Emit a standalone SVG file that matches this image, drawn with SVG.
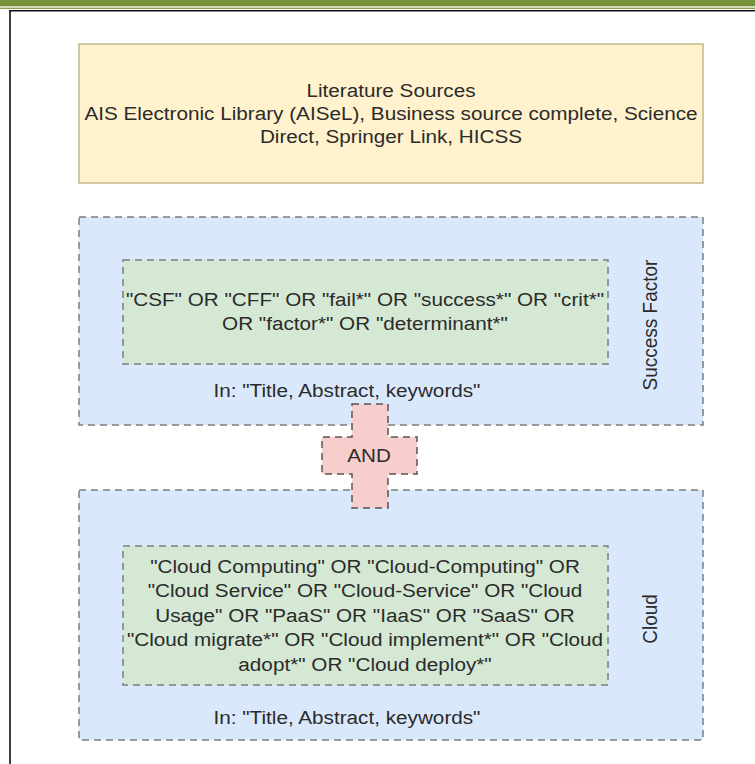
<svg xmlns="http://www.w3.org/2000/svg" width="755" height="764" viewBox="0 0 755 764">
  <style>
    .t { font-family: "Liberation Sans", Arial, sans-serif; font-size: 19px; fill: #2b2b2b; text-anchor: middle; }
    .src { fill: #fff2cc; stroke: #c4b88c; stroke-width: 1.5; }
    .grp { fill: #dae8fc; stroke: #7d7d7d; stroke-width: 1.5; stroke-dasharray: 7 5; }
    .terms { fill: #d5e8d4; stroke: #7d7d7d; stroke-width: 1.5; stroke-dasharray: 7 5; }
    .op { fill: #f8cecc; stroke: #555555; stroke-width: 1.5; stroke-dasharray: 7 5; }
  </style>

  <!-- page background and header rule -->
  <rect x="0" y="0" width="755" height="764" fill="#ffffff"/>
  <rect x="0" y="0" width="755" height="6.5" fill="#76923c"/>
  <rect x="0" y="6.5" width="755" height="1.2" fill="#e4ecd4"/>
  <rect x="0" y="7.7" width="755" height="1.3" fill="#8aa352"/>
  <line x1="9.3" y1="10.7" x2="755" y2="10.7" stroke="#111111" stroke-width="1.6"/>
  <line x1="10" y1="10" x2="10" y2="764" stroke="#111111" stroke-width="1.6"/>

  <g id="connectors"></g>

  <!-- literature sources -->
  <g id="sources">
    <rect class="src" x="79" y="44" width="624" height="139"/>
    <g transform="translate(391,0) scale(1.09,1)">
      <text class="t" x="0" y="97">Literature Sources</text>
      <text class="t" x="0" y="120">AIS Electronic Library (AISeL), Business source complete, Science</text>
      <text class="t" x="0" y="143">Direct, Springer Link, HICSS</text>
    </g>
  </g>

  <!-- success factor search block -->
  <g id="success-factor">
    <rect class="grp" x="79" y="217" width="624" height="208"/>
    <g transform="translate(650,325) scale(1.09,1) rotate(-90)">
      <text class="t" x="0" y="6.5">Success Factor</text>
    </g>
    <g transform="translate(347,0) scale(1.09,1)">
      <text class="t" x="0" y="397">In: "Title, Abstract, keywords"</text>
    </g>
  </g>
  <g id="success-terms">
    <rect class="terms" x="123" y="260" width="485" height="104"/>
    <g transform="translate(365,0) scale(1.09,1)">
      <text class="t" x="0" y="306.5">"CSF" OR "CFF" OR "fail*" OR "success*" OR "crit*"</text>
      <text class="t" x="0" y="330.5">OR "factor*" OR "determinant*"</text>
    </g>
  </g>

  <!-- cloud search block -->
  <g id="cloud">
    <rect class="grp" x="79" y="490" width="624" height="250"/>
    <g transform="translate(650,619) scale(1.09,1) rotate(-90)">
      <text class="t" x="0" y="6.5">Cloud</text>
    </g>
    <g transform="translate(347,0) scale(1.09,1)">
      <text class="t" x="0" y="724.5">In: "Title, Abstract, keywords"</text>
    </g>
  </g>
  <g id="cloud-terms">
    <rect class="terms" x="123" y="546" width="485" height="139"/>
    <g transform="translate(365,0) scale(1.09,1)">
      <text class="t" x="0" y="573">"Cloud Computing" OR "Cloud-Computing" OR</text>
      <text class="t" x="0" y="597.5">"Cloud Service" OR "Cloud-Service" OR "Cloud</text>
      <text class="t" x="0" y="622">Usage" OR "PaaS" OR "IaaS" OR "SaaS" OR</text>
      <text class="t" x="0" y="646.5">"Cloud migrate*" OR "Cloud implement*" OR "Cloud</text>
      <text class="t" x="0" y="671">adopt*" OR "Cloud deploy*"</text>
    </g>
  </g>

  <!-- AND operator joining both blocks -->
  <g id="and">
    <polygon class="op" points="352,404 388,404 388,437 417,437 417,474 388,474 388,508 352,508 352,474 322,474 322,437 352,437"/>
    <g transform="translate(369,0) scale(1.09,1)">
      <text class="t" x="0" y="462">AND</text>
    </g>
  </g>
</svg>
